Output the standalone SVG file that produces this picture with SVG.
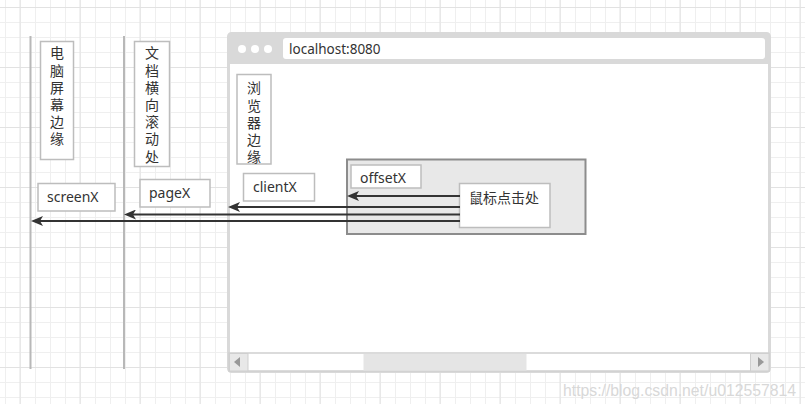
<svg xmlns="http://www.w3.org/2000/svg" width="805" height="404" viewBox="0 0 805 404">
  <style>
    .t{font-family:"Noto Sans","Noto Sans CJK SC",sans-serif;font-size:14px;fill:#333}
    .v{font-family:"Noto Sans CJK SC","Noto Sans",sans-serif;font-size:14px;fill:#333;writing-mode:vertical-rl;letter-spacing:3.2px}
    .box{fill:#fff;stroke:#bdbdbd;stroke-width:1.5}
    .edge{stroke:#b8b8b8;stroke-width:2}
    .arr{stroke:#333;stroke-width:2.2;fill:none;marker-end:url(#ah)}
  </style>
  <defs>
    <pattern id="gMinor" patternUnits="userSpaceOnUse" x="0" y="0" width="15" height="15">
      <path d="M5.5 0V15M0 7.5H15" stroke="#efefef" stroke-width="1" fill="none"/>
    </pattern>
    <pattern id="gMajor" patternUnits="userSpaceOnUse" x="0" y="0" width="60" height="60">
      <path d="M20 0V60M0 7.5H60" stroke="#e2e2e2" stroke-width="1" fill="none"/>
    </pattern>
    <marker id="ah" viewBox="0 0 12 10" refX="6" refY="5" markerWidth="12" markerHeight="10" markerUnits="userSpaceOnUse" orient="auto">
      <path d="M0 0L12 5L0 10L3 5z" fill="#333"/>
    </marker>
  </defs>

  <rect width="805" height="404" fill="#fff"/>
  <rect width="805" height="404" fill="url(#gMinor)"/>
  <rect width="805" height="404" fill="url(#gMajor)"/>

  <g id="screen-edge-line"><line class="edge" x1="30.5" y1="36" x2="30.5" y2="369"/></g>
  <g id="page-edge-line"><line class="edge" x1="124" y1="36" x2="124" y2="369"/></g>

  <g id="browser">
    <rect x="228.5" y="33.5" width="541" height="338" rx="3" fill="#fff" stroke="#d9d9d9" stroke-width="3"/>
    <path d="M228.5 64V36.5a3 3 0 0 1 3-3h535a3 3 0 0 1 3 3V64z" fill="#d9d9d9"/>
    <circle cx="242" cy="49" r="4" fill="#fff"/>
    <circle cx="255" cy="49" r="4" fill="#fff"/>
    <circle cx="268" cy="49" r="4" fill="#fff"/>
    <rect x="283" y="38" width="482" height="21" rx="3" fill="#fff"/>
    <text class="t" x="289" y="54" style="font-size:13.5px">localhost:8080</text>
    <g id="scrollbar">
      <rect x="229" y="353" width="540" height="18" fill="#fff" stroke="#cfcfcf" stroke-width="1.5"/>
      <rect x="363.5" y="354" width="163" height="16.5" fill="#e5e5e5"/>
      <rect x="229.5" y="353.5" width="18.5" height="17.5" fill="#e8e8e8" stroke="#cfcfcf" stroke-width="1"/>
      <path d="M234 362L240 357V367z" fill="#999"/>
      <rect x="750.5" y="353.5" width="18.5" height="17.5" fill="#e8e8e8" stroke="#cfcfcf" stroke-width="1"/>
      <path d="M764 362L758 357V367z" fill="#999"/>
    </g>
  </g>

  <g id="node-screen-edge">
    <rect class="box" x="40.5" y="41.5" width="33" height="118"/>
    <text class="v" x="57" y="46">电脑屏幕边缘</text>
  </g>

  <g id="node-page-edge">
    <rect class="box" x="134.5" y="41.5" width="35" height="125"/>
    <text class="v" x="152" y="46">文档横向滚动处</text>
  </g>

  <g id="node-browser-edge">
    <rect class="box" x="237" y="74.5" width="34" height="89.5"/>
    <text class="v" x="254" y="81">浏览器边缘</text>
  </g>

  <g id="node-screenX">
    <rect class="box" x="38" y="183.5" width="77" height="27.5"/>
    <text class="t" x="47" y="202">screenX</text>
  </g>

  <g id="node-pageX">
    <rect class="box" x="140" y="179.5" width="70" height="27.5"/>
    <text class="t" x="149" y="198">pageX</text>
  </g>

  <g id="node-clientX">
    <rect class="box" x="243.5" y="173.5" width="71" height="27.5"/>
    <text class="t" x="253" y="192">clientX</text>
  </g>

  <g id="node-target">
    <rect x="347" y="159.5" width="238.5" height="74.5" fill="#e8e8e8" stroke="#8c8c8c" stroke-width="2"/>
  </g>

  <g id="node-offsetX">
    <rect class="box" x="351" y="165" width="70" height="23"/>
    <text class="t" x="360" y="183">offsetX</text>
  </g>

  <g id="node-click">
    <rect class="box" x="459.5" y="183.5" width="90.5" height="44"/>
    <text class="t" x="469" y="203" style="font-family:'Noto Sans CJK SC',sans-serif">鼠标点击处</text>
  </g>

  <g id="connectors">
    <line class="arr" x1="460" y1="196" x2="353" y2="196"/>
    <line class="arr" x1="460" y1="207" x2="234" y2="207"/>
    <line class="arr" x1="460" y1="214.5" x2="130" y2="214.5"/>
    <line class="arr" x1="460" y1="221" x2="37" y2="221"/>
  </g>

  <text x="563" y="396" style="font-family:'Liberation Sans',sans-serif;font-size:16px;fill:#d8d8d8" textLength="233" lengthAdjust="spacingAndGlyphs">https://blog.csdn.net/u012557814</text>
</svg>
